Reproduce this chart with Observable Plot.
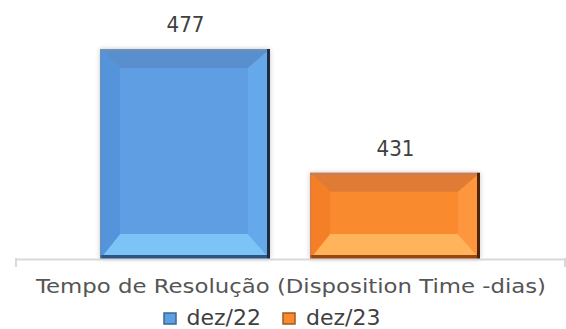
<!DOCTYPE html>
<html>
<head>
<meta charset="utf-8">
<script src="https://cdn.jsdelivr.net/npm/d3@7"></script>
<script src="https://cdn.jsdelivr.net/npm/@observablehq/plot@0.6"></script>
<style>
  html, body { margin: 0; padding: 0; background: #fff; }
  #chart { position: relative; width: 566px; height: 329px; overflow: hidden; font-family: "DejaVu Sans", sans-serif; }
  #legend { position: absolute; left: 0; top: 306px; width: 566px; display: flex; justify-content: center; }
  #legend > div { min-height: 0 !important; margin: 0 !important; }
</style>
</head>
<body>
<div id="chart"></div>
<script>
// ---- data ----
const category = "Tempo de Resolução (Disposition Time -dias)";
const series = ["dez/22", "dez/23"];
const values = [477, 431];
const colors = ["#5e9ee2", "#f98a2f"];
const yMin = 399, yMax = 477;

const data = series.map((s, i) => ({series: s, value: values[i]}));

const W = 566, H = 303, baseline = 259;
const FONT = "'DejaVu Sans', sans-serif";

const chart = Plot.plot({
  width: W,
  height: H,
  marginLeft: 16,
  marginRight: 1,
  marginTop: 49,
  marginBottom: H - baseline,
  style: {fontFamily: FONT, background: "#fff", overflow: "visible"},
  x: {domain: series, paddingInner: 0.19, paddingOuter: 0.4, axis: null},
  y: {domain: [yMin, yMax], axis: null},
  color: {domain: series, range: colors},
  marks: [
    Plot.barY(data, {x: "series", y1: yMin, y2: "value", fill: "series", className: "bevelbar"}),
    Plot.text(data, {x: "series", y: "value", text: d => String(d.value), dy: -24, fontSize: 21, fill: "#404040", className: "vlabel"}),
    Plot.ruleY([yMin], {stroke: "#d9d9d9", strokeWidth: 2}),
    Plot.text([category], {frameAnchor: "bottom", dy: 33, text: d => d, fontSize: 20, fill: "#555555", className: "catlabel"})
  ]
});

const svg = d3.select(chart);
svg.selectAll("g.catlabel text").attr("textLength", 510).attr("lengthAdjust", "spacingAndGlyphs");
svg.selectAll("g.vlabel text").attr("textLength", 38).attr("lengthAdjust", "spacingAndGlyphs");

const defs = svg.append("defs");
const shades = {
  "#5e9ee2": {top: "#5a8fcf", bottom: "#7cc3f6", left: "#5593da", right: "#66a9ea", edgeR: "#1d2c40", edgeB: "#2d5582", edgeT: "#7090b5"},
  "#f98a2f": {top: "#e07b36", bottom: "#ffb35a", left: "#f47f27", right: "#fd963e", edgeR: "#4e2406", edgeB: "#9a4610", edgeT: "#c08060"}
};
defs.append("filter").attr("id", "sh").attr("x", "-10%").attr("y", "-10%").attr("width", "120%").attr("height", "120%")
  .html('<feDropShadow dx="0" dy="0" stdDeviation="2.5" flood-color="#000" flood-opacity="0.22"/>');

svg.selectAll("g.bevelbar rect").each(function() {
  const r = d3.select(this);
  const x = +r.attr("x"), y = +r.attr("y"), w = +r.attr("width"), h = +r.attr("height");
  const s = shades[r.attr("fill")];
  if (!s) return;
  r.attr("filter", "url(#sh)");
  const g = d3.select(this.parentNode).append("g");
  const bt = 19, bb = 25, bl = 20, br = 22;
  const pts = {
    top: [[x, y], [x + w, y], [x + w - br, y + bt], [x + bl, y + bt]],
    bottom: [[x, y + h], [x + w, y + h], [x + w - br, y + h - bb], [x + bl, y + h - bb]],
    left: [[x, y], [x + bl, y + bt], [x + bl, y + h - bb], [x, y + h]],
    right: [[x + w, y], [x + w - br, y + bt], [x + w - br, y + h - bb], [x + w, y + h]]
  };
  for (const k of ["top", "bottom", "left", "right"]) {
    g.append("polygon").attr("points", pts[k].map(p => p.join(",")).join(" ")).attr("fill", s[k]);
  }
  g.append("rect").attr("x", x).attr("y", y).attr("width", w).attr("height", 2).attr("fill", s.edgeT);
  g.append("rect").attr("x", x).attr("y", y + h - 4).attr("width", w).attr("height", 4).attr("fill", s.edgeB);
  g.append("rect").attr("x", x + w - 3).attr("y", y).attr("width", 3).attr("height", h).attr("fill", s.edgeR);
  g.append("rect").attr("x", x).attr("y", y).attr("width", 1.5).attr("height", h).attr("fill", s.edgeT).attr("opacity", 0.6);
});

// axis end ticks at the plot frame edges
const y0 = chart.scale("y").apply(yMin);
for (const xx of [16, W - 1]) {
  svg.append("line").attr("x1", xx).attr("x2", xx).attr("y1", y0 - 1).attr("y2", y0 + 8)
    .attr("stroke", "#d9d9d9").attr("stroke-width", 2);
}

document.getElementById("chart").appendChild(chart);

const legend = Plot.legend({
  color: {domain: series, range: colors},
  legend: "swatches",
  swatchWidth: 12,
  swatchHeight: 11,
  style: {fontSize: "22px", fontFamily: FONT, color: "#404040", lineHeight: "24px"}
});
const lw = document.createElement("div");
lw.id = "legend";
lw.appendChild(legend);
document.getElementById("chart").appendChild(lw);
d3.select(legend).selectAll("svg").each(function(_, i) {
  const c = d3.color(colors[i % colors.length]);
  d3.select(this).selectAll("rect").attr("stroke", c ? c.darker(1.2) : null).attr("stroke-width", 1.5);
});
</script>
</body>
</html>
